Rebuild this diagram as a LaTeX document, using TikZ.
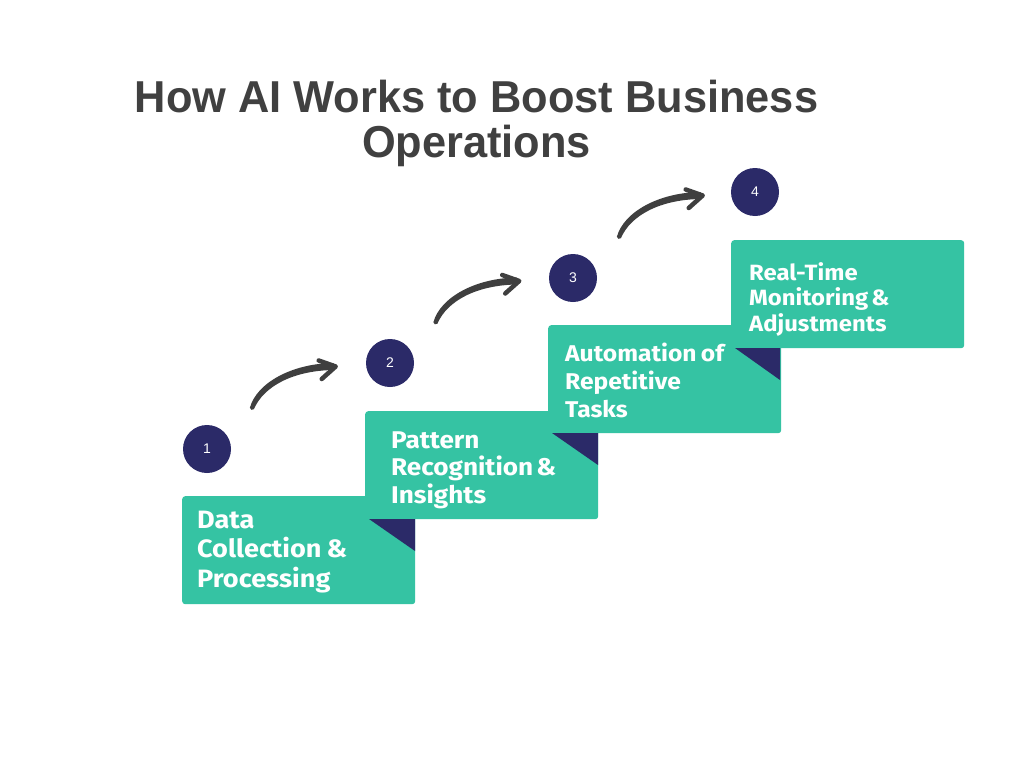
\documentclass[tikz,border=0pt]{standalone}
\usepackage{fontspec}
\setmainfont{Fira Sans}
\newfontfamily\boxfont[FakeStretch=1.08,WordSpace=0.75]{Fira Sans}
\newfontfamily\titlefont[FakeStretch=0.97]{Liberation Sans}
\newfontfamily\numfont{Liberation Sans}
\usetikzlibrary{arrows.meta}
\definecolor{teal}{HTML}{35C3A3}
\definecolor{navy}{HTML}{2B2A68}
\definecolor{arrowgray}{HTML}{3F3F3F}
\definecolor{titlegray}{HTML}{404040}
\newcommand{\boxtxt}[3]{\parbox[t]{220pt}{\raggedright\boxfont\bfseries\fontsize{#1}{#2}\selectfont #3}}
\tikzset{
  stepbox/.style={rectangle, rounded corners=3pt, fill=teal, anchor=north west,
    minimum width=233pt, minimum height=108pt, inner sep=0pt},
  steptext/.style={anchor=base west, inner sep=0pt, text=white},
  numdot/.style={circle, fill=navy, minimum size=48pt, inner sep=0pt, text=white,
    font=\numfont\fontsize{14}{14}\selectfont},
  fold/.style={fill=navy},
  arrowbody/.style={fill=arrowgray},
  arrowbarb/.style={draw=arrowgray, line width=4.5pt, line cap=round, line join=round}
}
\begin{document}
\begin{tikzpicture}[x=1pt,y=-1pt]
\useasboundingbox[fill=white] (0,0) rectangle (1024,768);
% title
\node[anchor=base, inner sep=0pt, text=titlegray] (title) at (476.5,112)
  {\parbox[t]{900pt}{\centering\titlefont\bfseries\fontsize{44.7}{45}\selectfont How AI Works to Boost Business\\Operations}};
% boxes
\node[stepbox] (b1) at (182,496) {};
\node[steptext] (t1) at (197,528.3) {\boxtxt{25.1}{29.5}{Data\\Collection\kern5pt\&\\Processing}};
\node[stepbox] (b2) at (365,411) {};
\node[steptext] (t2) at (391,448.3) {\boxtxt{24.2}{27.6}{Pattern\\Recognition\kern3pt\&\\Insights}};
\fill[fold] (369,519) -- (415,519) -- (415,551) -- cycle;
\node[stepbox] (b3) at (548,325) {};
\node[steptext] (t3) at (565,361.7) {\boxtxt{22.8}{28}{Automation of\\Repetitive\\Tasks}};
\fill[fold] (552,433) -- (598,433) -- (598,465) -- cycle;
\node[stepbox] (b4) at (731,240) {};
\node[steptext] (t4) at (749,280) {\boxtxt{22.1}{25.5}{Real-Time\\Monitoring\kern3pt\&\\Adjustments}};
\fill[fold] (735,348) -- (780,348) -- (780,380) -- cycle;
% circles
\node[numdot] (n1) at (207,449) {1};
\node[numdot] (n2) at (390,363) {2};
\node[numdot] (n3) at (573,278) {3};
\node[numdot] (n4) at (755,192) {4};
% arrows (tapered curved strokes with barbed heads)
\coordinate (s1) at (251.7,408);
\coordinate (s2) at (435.2,322.5);
\coordinate (s3) at (618.7,237);
\foreach \s in {s1,s2,s3}{
  \begin{scope}[shift={(\s)}]
    \fill[arrowbody] (-1.8,-0.3) .. controls (5,-25) and (40,-44.5) .. (82,-45)
      -- (82,-38) .. controls (42,-37.5) and (12,-22) .. (2.2,1.2)
      .. controls (1.2,2.8) and (-2.2,1.8) .. cycle;
    \draw[arrowbarb] (67,-47.5) -- (84,-41.5) -- (70,-29);
  \end{scope}
}
\end{tikzpicture}
\end{document}
